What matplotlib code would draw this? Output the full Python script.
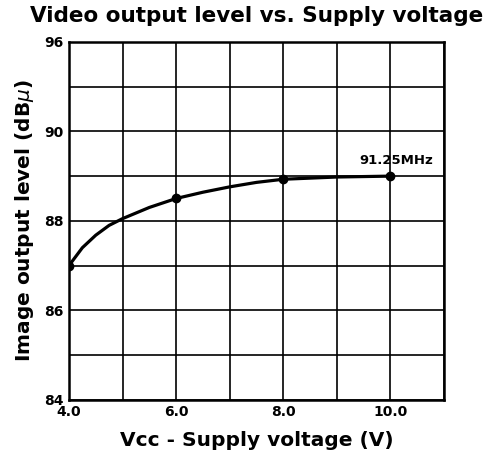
import numpy as np
import matplotlib
matplotlib.use("Agg")
import matplotlib.pyplot as plt
from matplotlib.ticker import FixedLocator

plt.rcParams['font.family'] = ['DejaVu Sans']

# measured points (Vcc, level)
vcc_pts = [4.0, 6.0, 8.0, 10.0]
level_pts = [87.0, 88.5, 88.93, 89.0]

# curve
vcc_curve = [4.0, 4.25, 4.5, 4.75, 5.0, 5.5, 6.0, 6.5, 7.0, 7.5, 8.0, 9.0, 10.0]
level_curve = [87.0, 87.4, 87.68, 87.9, 88.05, 88.3, 88.5, 88.64, 88.76, 88.86, 88.93, 88.98, 89.0]

x_ticks = [4, 6, 8, 10]
x_ticklabels = ["4.0", "6.0", "8.0", "10.0"]
y_ticks = [84, 86, 88, 90, 96]
y_minor = [85, 87, 89, 93]

# y axis on the original is not linear above 90: labels are evenly spaced
y_vals = [84, 86, 88, 90, 96]
y_pos = [0, 1, 2, 3, 4]

def fwd(y):
    return np.interp(y, y_vals, y_pos)

def inv(p):
    return np.interp(p, y_pos, y_vals)

fig = plt.figure(figsize=(4.89, 4.65), dpi=100)
ax = fig.add_axes([0.141, 0.14, 0.767, 0.77])
ax.set_yscale('function', functions=(fwd, inv))
ax.set_xlim(4, 11)
ax.set_ylim(84, 96)

ax.xaxis.set_major_locator(FixedLocator(x_ticks))
ax.xaxis.set_minor_locator(FixedLocator(np.arange(4, 12, 1)))
ax.set_xticklabels(x_ticklabels)
ax.yaxis.set_major_locator(FixedLocator(y_ticks))
ax.yaxis.set_minor_locator(FixedLocator(y_minor))
ax.set_yticklabels([str(v) for v in y_ticks])

ax.grid(True, which='both', color='black', linewidth=1.2)
ax.tick_params(which='both', length=0, labelsize=10, pad=4)
for lbl in ax.get_xticklabels() + ax.get_yticklabels():
    lbl.set_fontweight('bold')
for s in ax.spines.values():
    s.set_linewidth(1.8)

ax.plot(vcc_curve, level_curve, color='black', linewidth=2.3, zorder=3)
ax.plot(vcc_pts, level_pts, 'o', color='black', markersize=6, zorder=4)
ax.text(10.1, 89.35, "91.25MHz", ha='center', va='center', fontsize=9.5, fontweight='bold')

fig.text(0.524, 0.965, "Video output level vs. Supply voltage", ha='center', va='center',
         fontsize=15.5, fontweight='bold')
ax.set_xlabel("Vcc - Supply voltage (V)", fontsize=14.5, fontweight='bold', labelpad=8)
ax.set_ylabel("Image output level (dB$\\mu$)", fontsize=14.5, fontweight='bold', labelpad=6)

fig.savefig("out.png", dpi=100)
